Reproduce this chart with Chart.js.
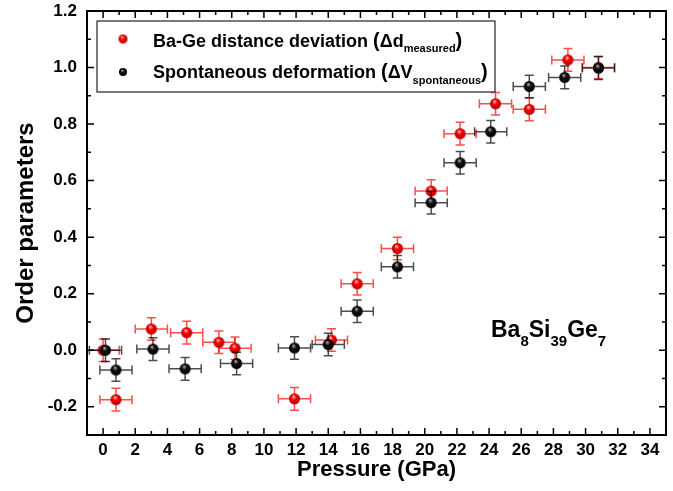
<!DOCTYPE html>
<html lang="en">
<head>
<meta charset="UTF-8">
<title>Order parameters vs pressure</title>
<script src="https://cdn.jsdelivr.net/npm/chart.js"></script>
<style>
  html, body { margin: 0; padding: 0; background: #fff; }
</style>
</head>
<body>
<canvas id="myChart" width="673" height="491"></canvas>
<script>
// Ba-Ge distance deviation (red)
const pressureRed = [0.0, 0.8, 3.0, 5.2, 7.2, 8.2, 11.9, 14.2, 15.8, 18.3, 20.4, 22.2, 24.4, 26.5, 28.9, 30.8];
const orderRed    = [0.0, -0.175, 0.075, 0.062, 0.028, 0.007, -0.172, 0.036, 0.235, 0.36, 0.563, 0.766, 0.872, 0.852, 1.027, 1.0];
const pErrRed     = [1, 1, 1, 1, 1, 1, 1, 1, 1, 1, 1, 1, 1, 1, 1, 1];
const oErrRed     = [0.04, 0.04, 0.04, 0.04, 0.04, 0.04, 0.04, 0.04, 0.04, 0.04, 0.04, 0.04, 0.04, 0.04, 0.04, 0.04];

// Spontaneous deformation (black)
const pressureBlack = [0.15, 0.8, 3.1, 5.1, 8.3, 11.9, 14.0, 15.8, 18.3, 20.4, 22.2, 24.1, 26.5, 28.7, 30.8];
const orderBlack    = [0.0, -0.07, 0.004, -0.066, -0.047, 0.008, 0.02, 0.138, 0.295, 0.522, 0.663, 0.773, 0.933, 0.965, 0.998];
const pErrBlack     = [1, 1, 1, 1, 1, 1, 1, 1, 1, 1, 1, 1, 1, 1, 1];
const oErrBlack     = [0.04, 0.04, 0.04, 0.04, 0.04, 0.04, 0.04, 0.04, 0.04, 0.04, 0.04, 0.04, 0.04, 0.04, 0.04];

const xTicks = [0, 2, 4, 6, 8, 10, 12, 14, 16, 18, 20, 22, 24, 26, 28, 30, 32, 34];
const yTicks = [-0.2, 0.0, 0.2, 0.4, 0.6, 0.8, 1.0, 1.2];

const FONT = '"Liberation Sans", Arial, sans-serif';

// glossy ball used as point style
function sphere(r, base, dark, light) {
    const c = document.createElement('canvas');
    c.width = c.height = Math.ceil(2 * r + 2);
    const g = c.getContext('2d');
    const cx = c.width / 2, cy = c.height / 2;
    const grad = g.createRadialGradient(cx - r * 0.2, cy - r * 0.45, r * 0.05, cx, cy, r);
    grad.addColorStop(0, light);
    grad.addColorStop(0.4, base);
    grad.addColorStop(1, dark);
    g.fillStyle = grad;
    g.beginPath();
    g.arc(cx, cy, r, 0, Math.PI * 2);
    g.fill();
    return c;
}
const redBall = sphere(5.5, '#ff0000', '#b00000', '#ffd0d0');
const blackBall = sphere(5.5, '#111111', '#000000', '#b0b0b0');
const redBallLg = sphere(4.5, '#ff0000', '#b00000', '#ffd0d0');
const blackBallLg = sphere(4, '#111111', '#000000', '#b0b0b0');

function points(xs, ys, xe, ye) {
    return xs.map((x, i) => ({ x: x, y: ys[i], xe: xe[i], ye: ye[i] }));
}

// error bars drawn under each dataset's balls
const errorBars = {
    id: 'errorBars',
    beforeDatasetDraw(chart, args) {
        const ds = chart.data.datasets[args.index];
        const sx = chart.scales.x, sy = chart.scales.y;
        const ctx = chart.ctx;
        const cap = 4.5;
        ctx.save();
        ctx.strokeStyle = ds.errorColor;
        ctx.lineWidth = 1.5;
        ds.data.forEach(p => {
            const x = sx.getPixelForValue(p.x), y = sy.getPixelForValue(p.y);
            const x0 = sx.getPixelForValue(p.x - p.xe), x1 = sx.getPixelForValue(p.x + p.xe);
            const y0 = sy.getPixelForValue(p.y - p.ye), y1 = sy.getPixelForValue(p.y + p.ye);
            ctx.beginPath();
            ctx.moveTo(x0, y); ctx.lineTo(x1, y);
            ctx.moveTo(x0, y - cap); ctx.lineTo(x0, y + cap);
            ctx.moveTo(x1, y - cap); ctx.lineTo(x1, y + cap);
            ctx.moveTo(x, y0); ctx.lineTo(x, y1);
            ctx.moveTo(x - cap, y0); ctx.lineTo(x + cap, y0);
            ctx.moveTo(x - cap, y1); ctx.lineTo(x + cap, y1);
            ctx.stroke();
        });
        ctx.restore();
    }
};

function drawRich(ctx, x, y, parts) {
    parts.forEach(p => {
        ctx.font = 'bold ' + p[1] + 'px ' + FONT;
        ctx.fillText(p[0], x, y + (p[2] || 0));
        x += ctx.measureText(p[0]).width;
    });
}

// frame with inward ticks, legend box and the formula label
const decorations = {
    id: 'decorations',
    afterDraw(chart) {
        const ctx = chart.ctx;
        const a = chart.chartArea;
        const sx = chart.scales.x, sy = chart.scales.y;
        ctx.save();
        ctx.strokeStyle = '#000';
        ctx.lineWidth = 1.5;
        ctx.beginPath();
        for (let v = -1; v <= 35; v++) {
            const px = sx.getPixelForValue(v);
            const len = v % 2 === 0 ? 7 : 4;
            ctx.moveTo(px, a.bottom); ctx.lineTo(px, a.bottom - len);
            ctx.moveTo(px, a.top); ctx.lineTo(px, a.top + len);
        }
        for (let k = -3; k <= 12; k++) {
            const py = sy.getPixelForValue(k / 10);
            const len = (k + 10) % 2 === 0 ? 7 : 4;
            ctx.moveTo(a.left, py); ctx.lineTo(a.left + len, py);
            ctx.moveTo(a.right, py); ctx.lineTo(a.right - len, py);
        }
        ctx.stroke();
        ctx.lineWidth = 2;
        ctx.strokeRect(a.left, a.top, a.right - a.left, a.bottom - a.top);

        // legend
        ctx.lineWidth = 1.2;
        ctx.strokeStyle = '#222';
        ctx.fillStyle = '#fff';
        ctx.fillRect(97, 21, 398, 71);
        ctx.strokeRect(97, 21, 398, 71);
        ctx.drawImage(redBallLg, 123 - redBallLg.width / 2, 39 - redBallLg.height / 2);
        ctx.drawImage(blackBallLg, 123 - blackBallLg.width / 2, 72 - blackBallLg.height / 2);
        ctx.fillStyle = '#000';
        ctx.textBaseline = 'alphabetic';
        ctx.textAlign = 'left';
        drawRich(ctx, 153, 47, [['Ba-Ge distance deviation ', 18], ['(', 20], ['\u0394d', 18], ['measured', 11, 5], [')', 20]]);
        drawRich(ctx, 153, 78, [['Spontaneous deformation ', 18], ['(', 20], ['\u0394V', 18], ['spontaneous', 11, 6], [')', 20]]);

        // compound label
        drawRich(ctx, 491, 337, [['Ba', 23], ['8', 15, 9], ['Si', 23], ['39', 15, 9], ['Ge', 23], ['7', 15, 9]]);
        ctx.restore();
    }
};

const ctx = document.getElementById('myChart').getContext('2d');
const myChart = new Chart(ctx, {
    type: 'scatter',
    data: {
        datasets: [{
            label: 'Ba-Ge distance deviation',
            data: points(pressureRed, orderRed, pErrRed, oErrRed),
            pointStyle: redBall,
            pointRadius: 5.5,
            errorColor: 'rgba(255, 0, 0, 0.7)',
            order: 1
        }, {
            label: 'Spontaneous deformation',
            data: points(pressureBlack, orderBlack, pErrBlack, oErrBlack),
            pointStyle: blackBall,
            pointRadius: 5.5,
            errorColor: 'rgba(0, 0, 0, 0.7)',
            order: 0
        }]
    },
    options: {
        responsive: false,
        animation: false,
        devicePixelRatio: 1,
        layout: { padding: { top: 11, right: 7, left: 0, bottom: 0 } },
        plugins: {
            legend: { display: false },
            tooltip: { enabled: false }
        },
        scales: {
            x: {
                type: 'linear',
                min: -1,
                max: 35,
                afterBuildTicks: s => { s.ticks = xTicks.map(v => ({ value: v })); },
                afterFit: s => { s.height = 56; s.paddingLeft = 0; s.paddingRight = 0; },
                grid: { display: false, drawTicks: false },
                border: { display: false },
                ticks: {
                    padding: 5,
                    color: '#000',
                    maxRotation: 0,
                    font: { family: FONT, size: 17, weight: 'bold' }
                },
                title: {
                    display: true,
                    text: 'Pressure (GPa)',
                    color: '#000',
                    padding: { top: 0, bottom: 8 },
                    font: { family: FONT, size: 22, weight: 'bold' }
                }
            },
            y: {
                type: 'linear',
                min: -0.3,
                max: 1.2,
                afterBuildTicks: s => { s.ticks = yTicks.map(v => ({ value: v })); },
                afterFit: s => { s.width = 87; s.paddingTop = 0; s.paddingBottom = 0; },
                grid: { display: false, drawTicks: false },
                border: { display: false },
                ticks: {
                    padding: 10,
                    color: '#000',
                    callback: v => v.toFixed(1),
                    font: { family: FONT, size: 17, weight: 'bold' }
                },
                title: {
                    display: true,
                    text: 'Order parameters',
                    color: '#000',
                    padding: { top: 12, bottom: 0 },
                    font: { family: FONT, size: 24, weight: 'bold' }
                }
            }
        }
    },
    plugins: [errorBars, decorations]
});
</script>
</body>
</html>
